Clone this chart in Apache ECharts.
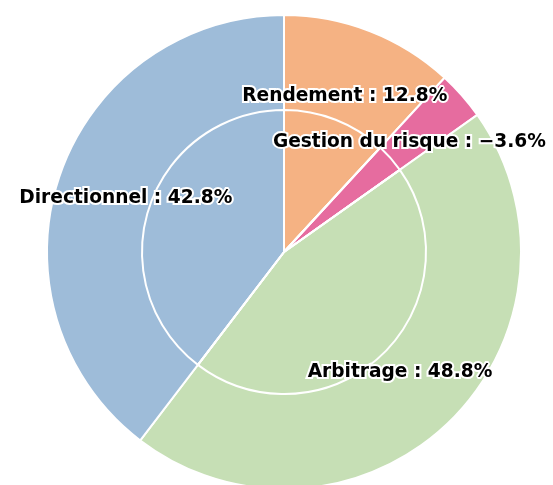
<!DOCTYPE html>
<html>
<head>
<meta charset="utf-8">
<script src="https://cdn.jsdelivr.net/npm/echarts@6/dist/echarts.min.js"></script>
<style>
  html, body { margin: 0; padding: 0; background: #fff; }
  #chart { width: 553px; height: 485px; }
</style>
</head>
<body>
<div id="chart"></div>
<script>
// slice names and signed values (the pie uses the absolute size)
const categories = ["Rendement", "Gestion du risque", "Arbitrage", "Directionnel"];
const values = [12.8, -3.6, 48.8, 42.8];
const colors = ["#f5b283", "#e66c9f", "#c6dfb5", "#9ebcd9"];

const fmt = (v) => (v < 0 ? "\u2212" + Math.abs(v).toFixed(1) : v.toFixed(1)) + "%";

const pieData = categories.map((name, i) => ({
  name,
  value: Math.abs(values[i]),
  itemStyle: { color: colors[i] },
}));

const center = [284, 252];

const chart = echarts.init(document.getElementById("chart"));
chart.setOption({
  animation: false,
  series: [
    {
      // filled slices
      type: "pie",
      center,
      radius: [0, 237],
      startAngle: 90,
      clockwise: true,
      silent: true,
      label: { show: false },
      labelLine: { show: false },
      itemStyle: { borderColor: "#fff", borderWidth: 2 },
      data: pieData,
    },
    {
      // inner white ring
      type: "pie",
      center,
      radius: [0, 142],
      startAngle: 90,
      silent: true,
      label: { show: false },
      labelLine: { show: false },
      itemStyle: { color: "rgba(0,0,0,0)", borderColor: "#fff", borderWidth: 2 },
      data: pieData.map((d) => ({ name: d.name, value: d.value })),
    },
    {
      // invisible layer just for the labels (inside labels sit at ~164px)
      type: "pie",
      center,
      radius: [0, 328],
      startAngle: 90,
      silent: true,
      z: 10,
      itemStyle: { color: "rgba(0,0,0,0)", borderWidth: 0 },
      labelLine: { show: false },
      label: {
        show: true,
        position: "inside",
        formatter: (p) => p.name + " : " + fmt(values[p.dataIndex]),
        fontFamily: "DejaVu Sans",
        fontWeight: "bold",
        fontSize: 18.6,
        color: "#000",
        textBorderColor: "#fff",
        textBorderWidth: 4,
      },
      data: pieData.map((d) => ({ name: d.name, value: d.value })),
    },
  ],
});
</script>
</body>
</html>
